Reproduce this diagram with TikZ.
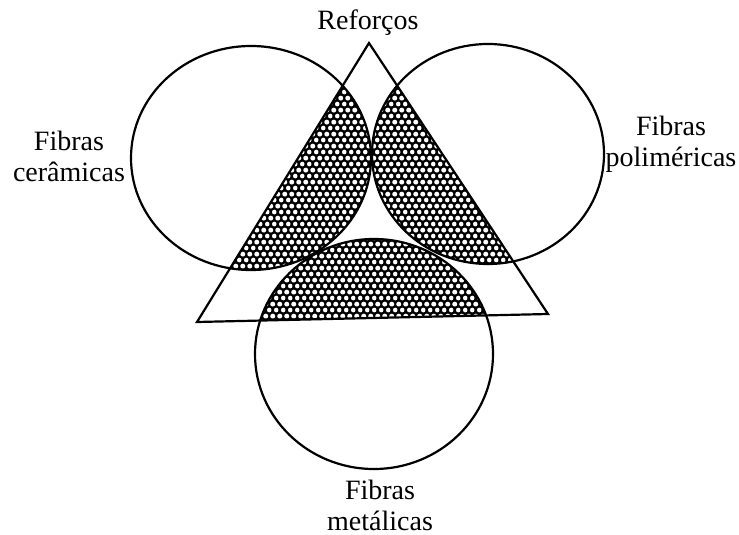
\documentclass[tikz,border=0pt]{standalone}
\usepackage{fontspec}
\setmainfont{Liberation Serif}
\usetikzlibrary{patterns}

% white dots in staggered rows, laid over a black fill
\pgfdeclarepatternformonly{bolhas}{\pgfpointorigin}{\pgfpoint{3.6pt}{6.2pt}}{\pgfpoint{3.6pt}{6.2pt}}{
	\pgfpathcircle{\pgfpoint{1.8pt}{1.55pt}}{1.25pt}
	\pgfpathcircle{\pgfpoint{0pt}{4.65pt}}{1.25pt}
	\pgfpathcircle{\pgfpoint{3.6pt}{4.65pt}}{1.25pt}
	\pgfusepath{fill}
}

\begin{document}
\begin{tikzpicture}[
	x=0.5pt, y=-0.5pt,
	contorno/.style={ line width=1.1pt },
	hachura/.style={ fill=black, postaction={ pattern=bolhas, pattern color=white } },
	rotulo/.style={ font=\fontsize{14}{15.5}\selectfont, align=center, inner sep=0pt }
]
\useasboundingbox (0,0) rectangle (739,535);

\coordinate (topo) at (369,43);
\coordinate (baseE) at (197,322);
\coordinate (baseD) at (548,314);
\coordinate (cE) at (251,158);
\coordinate (cD) at (488,154);
\coordinate (cB) at (374,354);

\begin{scope}
	\clip (topo) -- (baseE) -- (baseD) -- cycle;
	\foreach \c/\rx/\ry in {cE/120/112, cD/116/110, cB/119/115}
		\fill[hachura] (\c) ellipse [x radius=\rx, y radius=\ry];
\end{scope}
\foreach \c/\rx/\ry in {cE/120/112, cD/116/110, cB/119/115}
	\draw[contorno] (\c) ellipse [x radius=\rx, y radius=\ry];
\draw[contorno] (topo) -- (baseE) -- (baseD) -- cycle;

\node[rotulo, anchor=base] (reforcos) at (368,30) {Reforços};
\node[rotulo] (ceramicas) at (69,156) {Fibras\\cerâmicas};
\node[rotulo] (polimericas) at (671,144) {Fibras\\poliméricas};
\node[rotulo] (metalicas) at (380,505) {Fibras\\metálicas};

\end{tikzpicture}
\end{document}
